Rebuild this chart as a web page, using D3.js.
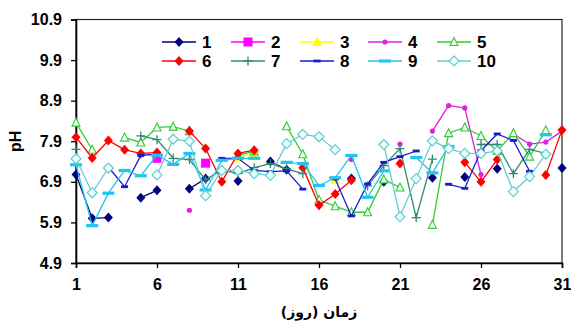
<!DOCTYPE html>
<html>
<head>
<meta charset="utf-8">
<script src="https://cdn.jsdelivr.net/npm/d3@7"></script>
<style>
  body { margin: 0; background: #fff; }
  text { font-family: "Liberation Sans", Arial, sans-serif; font-weight: bold; fill: #000; }
</style>
</head>
<body>
<svg id="chart" width="571" height="321"></svg>
<script>
// ---- data ----
const days = [1, 2, 3, 4, 5, 6, 7, 8, 9, 10, 11, 12, 13, 14, 15, 16, 17, 18, 19, 20, 21, 22, 23, 24, 25, 26, 27, 28, 29, 30, 31];
const xTicks = [1, 6, 11, 16, 21, 26, 31];
const yTicks = [4.9, 5.9, 6.9, 7.9, 8.9, 9.9, 10.9];
const seriesNames = ['1', '2', '3', '4', '5', '6', '7', '8', '9', '10'];

const s1 = [7.08, 6.0, 6.02, null, 6.51, 6.69, null, 6.73, 6.98, null, 6.92, null, 7.4, 7.2, null, null, null, 6.98, null, 6.9, null, null, 7.0, null, 7.02, null, 7.22, null, null, null, 7.24];
const s2 = [null, null, null, null, null, 7.48, null, null, 7.36, null, null, null, null, null, null, null, null, null, null, null, null, null, null, null, null, null, null, null, null, null, null];
const s3 = [null, null, null, null, null, null, null, null, null, null, 7.5, 7.6, null, null, null, null, 6.95, null, null, null, null, null, null, null, null, null, null, null, null, null, null];
const s4 = [null, null, null, null, null, null, null, 6.2, null, null, null, null, null, null, null, null, null, 7.45, null, null, 7.83, null, 8.15, 8.78, 8.72, 7.08, null, 8.08, 7.83, 7.88, 8.15];
const s5 = [8.36, 7.69, null, 7.99, 7.87, 8.24, 8.26, 8.15, null, null, 7.55, 7.65, null, 8.27, 7.58, 6.45, 6.3, 6.15, 6.15, 6.96, 6.76, null, 5.84, 8.1, 8.24, 8.03, 7.66, 8.1, 7.52, 8.17, null];
const s6 = [8.0, 7.49, 7.92, 7.69, 7.6, 7.62, null, 8.15, 7.72, 6.9, 7.6, 7.68, null, null, 7.25, 6.32, 6.6, 6.94, null, null, 7.35, null, null, null, 7.38, 6.9, 7.45, null, null, 7.07, 8.18];
const s7 = [7.7, null, null, null, 8.03, 7.94, 7.48, 7.45, 6.95, 7.2, 7.1, 7.25, 7.35, 7.22, 7.1, null, null, null, 6.8, 7.3, 7.72, 6.02, 7.46, null, null, 7.82, 7.82, 7.1, 7.7, 7.6, null];
const s8 = [null, null, 7.26, 6.78, 7.55, 7.58, null, null, null, 7.48, 7.48, 7.18, 7.15, 7.17, 6.72, null, 6.97, 6.06, 6.85, 7.38, 7.52, 7.66, null, 6.84, 6.74, 7.67, 8.08, 7.92, 7.16, null, null];
const s9 = [7.32, 5.82, 6.62, 7.18, 7.05, 7.56, 7.33, 7.6, 6.7, 7.43, 7.48, 7.48, null, 7.38, 7.35, 6.81, 7.0, 7.55, 6.52, 7.17, null, 7.5, 7.12, 7.77, null, null, null, null, null, 8.06, null];
const s10 = [7.47, 6.63, 7.24, null, null, 7.07, 7.95, 7.9, 6.56, 7.18, 7.18, 7.1, 7.06, 7.84, 8.07, 8.01, 7.69, null, null, 7.82, 6.04, 6.98, 7.91, 7.72, 7.6, 7.6, 7.66, 6.66, 7.03, 7.58, null];

const seriesValues = [s1, s2, s3, s4, s5, s6, s7, s8, s9, s10];

// ---- styles ----
const colors = ['#000080', '#ff00ff', '#ffff00', '#e020e0', '#33cc33', '#ff0000', '#2f8a70', '#1a1acc', '#22c4f0', '#66cccc'];
const markers = ['diamond', 'square', 'triangle', 'dot', 'triangleOpen', 'diamond', 'plus', 'dashShort', 'dashLong', 'diamondOpen'];

const svg = d3.select('#chart');
svg.append('rect').attr('width', 571).attr('height', 321).attr('fill', '#fff');

const margin = { left: 76, right: 9, top: 19.5, bottom: 58 };
const x = d3.scaleLinear().domain([1, 31]).range([margin.left, 571 - margin.right]);
const y = d3.scaleLinear().domain([4.9, 10.9]).range([321 - margin.bottom, margin.top]);

// plot frame
svg.append('rect')
  .attr('x', x(1)).attr('y', y(10.9))
  .attr('width', x(31) - x(1)).attr('height', y(4.9) - y(10.9))
  .attr('fill', 'none').attr('stroke', '#222').attr('stroke-width', 1.2);

// axes
const yAxis = svg.append('g')
  .attr('transform', `translate(${x(1)},0)`)
  .call(d3.axisLeft(y).tickValues(yTicks).tickSize(5).tickPadding(9).tickFormat(d3.format('.1f')));
const xAxis = svg.append('g')
  .attr('transform', `translate(0,${y(4.9)})`)
  .call(d3.axisBottom(x).tickValues(xTicks).tickSize(5).tickPadding(11).tickFormat(d3.format('d')));

[xAxis, yAxis].forEach(a => {
  a.select('.domain').attr('stroke', '#000').attr('stroke-width', 1.6);
  a.selectAll('.tick line').attr('stroke', '#000').attr('stroke-width', 1.3);
  a.selectAll('.tick text')
    .style('font-family', '"Liberation Sans", Arial, sans-serif')
    .style('font-weight', 'bold').style('font-size', '16px').attr('fill', '#000');
});

// axis titles
svg.append('text')
  .attr('transform', `translate(21,${(y(4.9) + y(10.9)) / 2}) rotate(-90)`)
  .attr('text-anchor', 'middle')
  .style('font-size', '16px')
  .text('pH');

svg.append('text')
  .attr('x', (x(1) + x(31)) / 2).attr('y', 317)
  .attr('text-anchor', 'middle')
  .style('font-family', '"DejaVu Sans", sans-serif')
  .style('font-size', '14px')
  .text('زمان (روز)');

// markers
function drawMarker(g, type, color) {
  if (type === 'diamond') {
    g.append('path').attr('d', 'M0,-5L4.5,0L0,5L-4.5,0Z').attr('fill', color);
  } else if (type === 'diamondOpen') {
    g.append('path').attr('d', 'M0,-5L5,0L0,5L-5,0Z').attr('fill', '#eaffff').attr('stroke', color).attr('stroke-width', 1.2);
  } else if (type === 'square') {
    g.append('rect').attr('x', -4.5).attr('y', -4.5).attr('width', 9).attr('height', 9).attr('fill', color);
  } else if (type === 'triangle') {
    g.append('path').attr('d', 'M0,-5L5,4L-5,4Z').attr('fill', color);
  } else if (type === 'triangleOpen') {
    g.append('path').attr('d', 'M0,-4.5L4,3.5L-4,3.5Z').attr('fill', '#f2fff2').attr('stroke', color).attr('stroke-width', 1.1);
  } else if (type === 'dot') {
    g.append('circle').attr('r', 2.6).attr('fill', color);
  } else if (type === 'plus') {
    g.append('path').attr('d', 'M-4.5,0H4.5M0,-4.5V4.5').attr('stroke', color).attr('stroke-width', 1.3);
  } else if (type === 'dashShort') {
    g.append('rect').attr('x', -3.5).attr('y', -1.4).attr('width', 7).attr('height', 2.8).attr('fill', color);
  } else if (type === 'dashLong') {
    g.append('rect').attr('x', -6).attr('y', -1.6).attr('width', 12).attr('height', 3.2).attr('fill', color);
  }
}

const line = d3.line()
  .defined(d => d.v !== null)
  .x(d => x(d.day))
  .y(d => y(d.v));

const plot = svg.append('g');
seriesValues.forEach((vals, i) => {
  const pts = days.map((day, k) => ({ day: day, v: vals[k] }));
  const g = plot.append('g');
  g.append('path')
    .datum(pts)
    .attr('d', line)
    .attr('fill', 'none')
    .attr('stroke', colors[i])
    .attr('stroke-width', 1.3);
  g.selectAll('.m')
    .data(pts.filter(d => d.v !== null))
    .enter().append('g')
    .attr('class', 'm')
    .attr('transform', d => `translate(${x(d.day)},${y(d.v)})`)
    .each(function () { drawMarker(d3.select(this), markers[i], colors[i]); });
});

// legend: two rows of five
const legendCols = [162, 231, 300, 368, 437];
const legendRows = [42, 61];
const legend = svg.append('g');
seriesNames.forEach((name, i) => {
  const lx = legendCols[i % 5];
  const ly = legendRows[Math.floor(i / 5)];
  const g = legend.append('g').attr('transform', `translate(${lx},${ly})`);
  g.append('line').attr('x1', 0).attr('x2', 34).attr('y1', 0).attr('y2', 0)
    .attr('stroke', colors[i]).attr('stroke-width', 1.3);
  const m = g.append('g').attr('transform', 'translate(17,0)');
  drawMarker(m, markers[i], colors[i]);
  g.append('text').attr('x', 40).attr('y', 6)
    .style('font-size', '17px')
    .text(name);
});
</script>
</body>
</html>
